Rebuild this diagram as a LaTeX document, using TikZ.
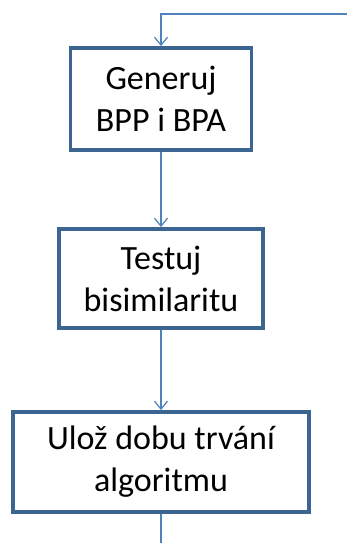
\documentclass[tikz,border=0pt]{standalone}
\usepackage{fontspec}
\setmainfont{Carlito}
\usetikzlibrary{arrows.meta}
\definecolor{boxline}{HTML}{3D6592}
\definecolor{flowline}{HTML}{4F81BD}
\tikzset{
  stepbox/.style={draw=boxline, line width=3.8pt, fill=white, align=center,
    inner sep=0pt, font=\fontsize{34}{42}\selectfont, text=black},
  flow/.style={draw=flowline, line width=1.5pt,
    -{Straight Barb[length=8pt,width=13pt,line width=1.2pt]}},
  plain/.style={draw=flowline, line width=1.5pt}
}
\begin{document}
\begin{tikzpicture}[x=1pt,y=-1pt]
  \useasboundingbox (0,0) rectangle (347,543);
  \node[stepbox, minimum width=181pt, minimum height=102pt] (gen) at (161,99) {Generuj\\BPP i BPA};
  \node[stepbox, minimum width=204pt, minimum height=99pt] (test) at (161,278.5) {Testuj\\bisimilaritu};
  \node[stepbox, minimum width=296pt, minimum height=100pt] (save) at (161,462) {Ulož dobu trvání\\algoritmu};
  \coordinate (loopin) at (347,14);
  \coordinate (loopout) at (161,543);
  \draw[flow] (loopin) -| (gen.north);
  \draw[flow] (gen.south) -- (test.north);
  \draw[flow] (test.south) -- (save.north);
  \draw[plain] (save.south) -- (loopout);
\end{tikzpicture}
\end{document}
